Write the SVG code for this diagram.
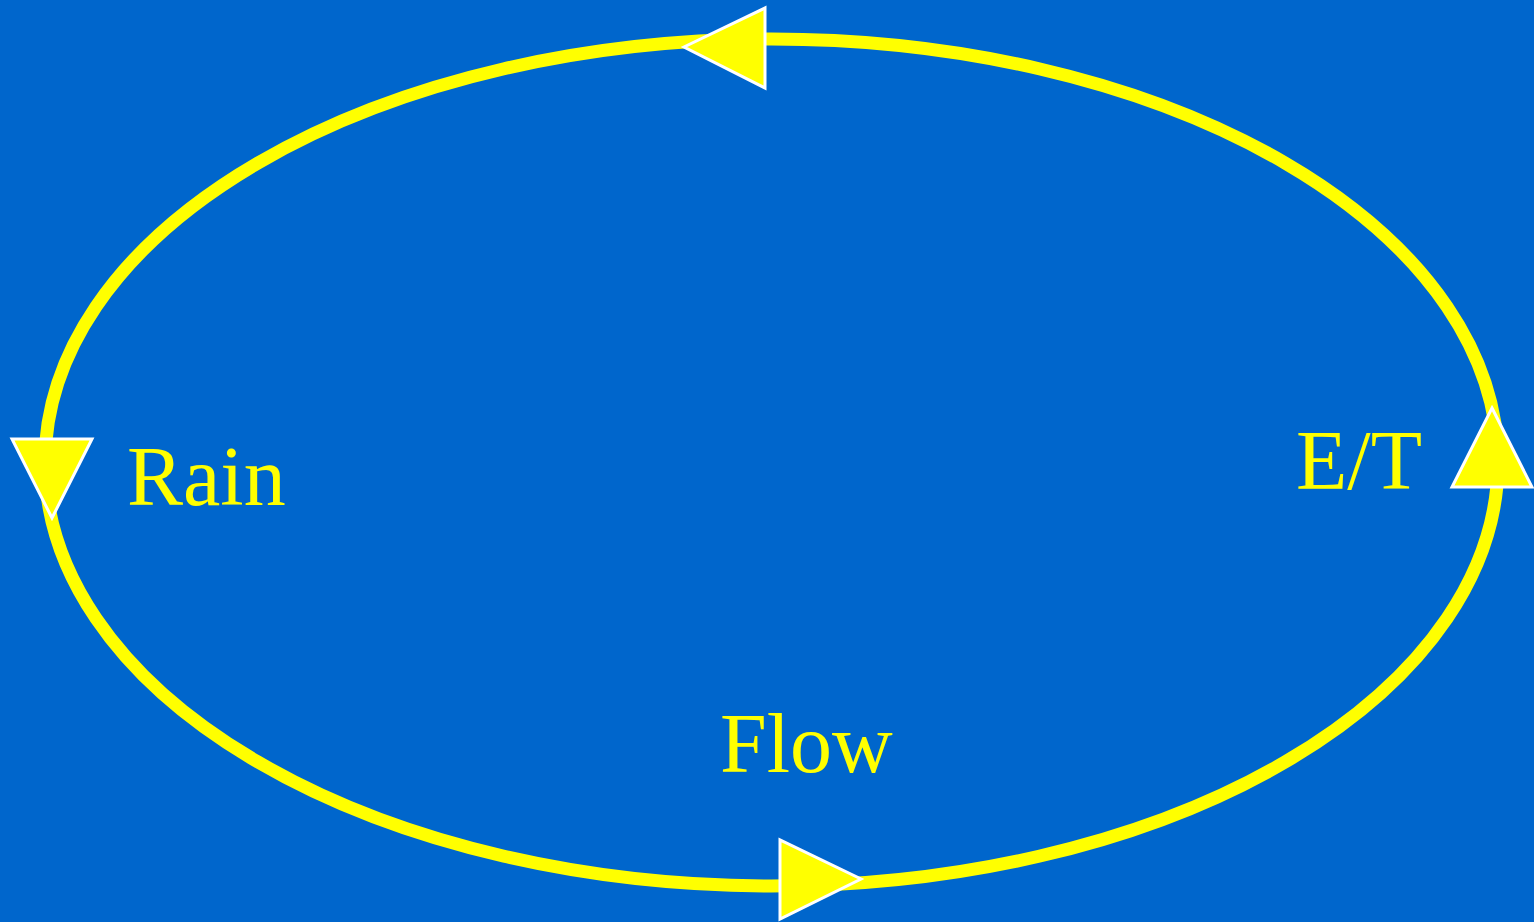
<svg xmlns="http://www.w3.org/2000/svg" width="1534" height="922" viewBox="0 0 1534 922">
<style>
.lbl{font-family:"Liberation Serif","Times New Roman",serif;font-size:84px;fill:#ffff00}
.head{fill:#ffff00;stroke:#ffffff;stroke-width:3;stroke-linejoin:miter}
</style>
<rect width="1534" height="922" fill="#0066cc"/>
<g id="connectors">
<ellipse cx="771.5" cy="462.5" rx="726.5" ry="423.5" fill="none" stroke="#ffff00" stroke-width="13"/>
<polygon class="head" points="765,8 765,88 684,47"/>
<polygon class="head" points="12,439 92,439 52,518"/>
<polygon class="head" points="1492,408 1532,487 1452,487"/>
<polygon class="head" points="780,840 780,919 861,879"/>
</g>
<g id="rain"><text class="lbl" x="127" y="505">Rain</text></g>
<g id="et"><text class="lbl" x="1296" y="489">E/T</text></g>
<g id="flow"><text class="lbl" x="720" y="772">Flow</text></g>
</svg>
